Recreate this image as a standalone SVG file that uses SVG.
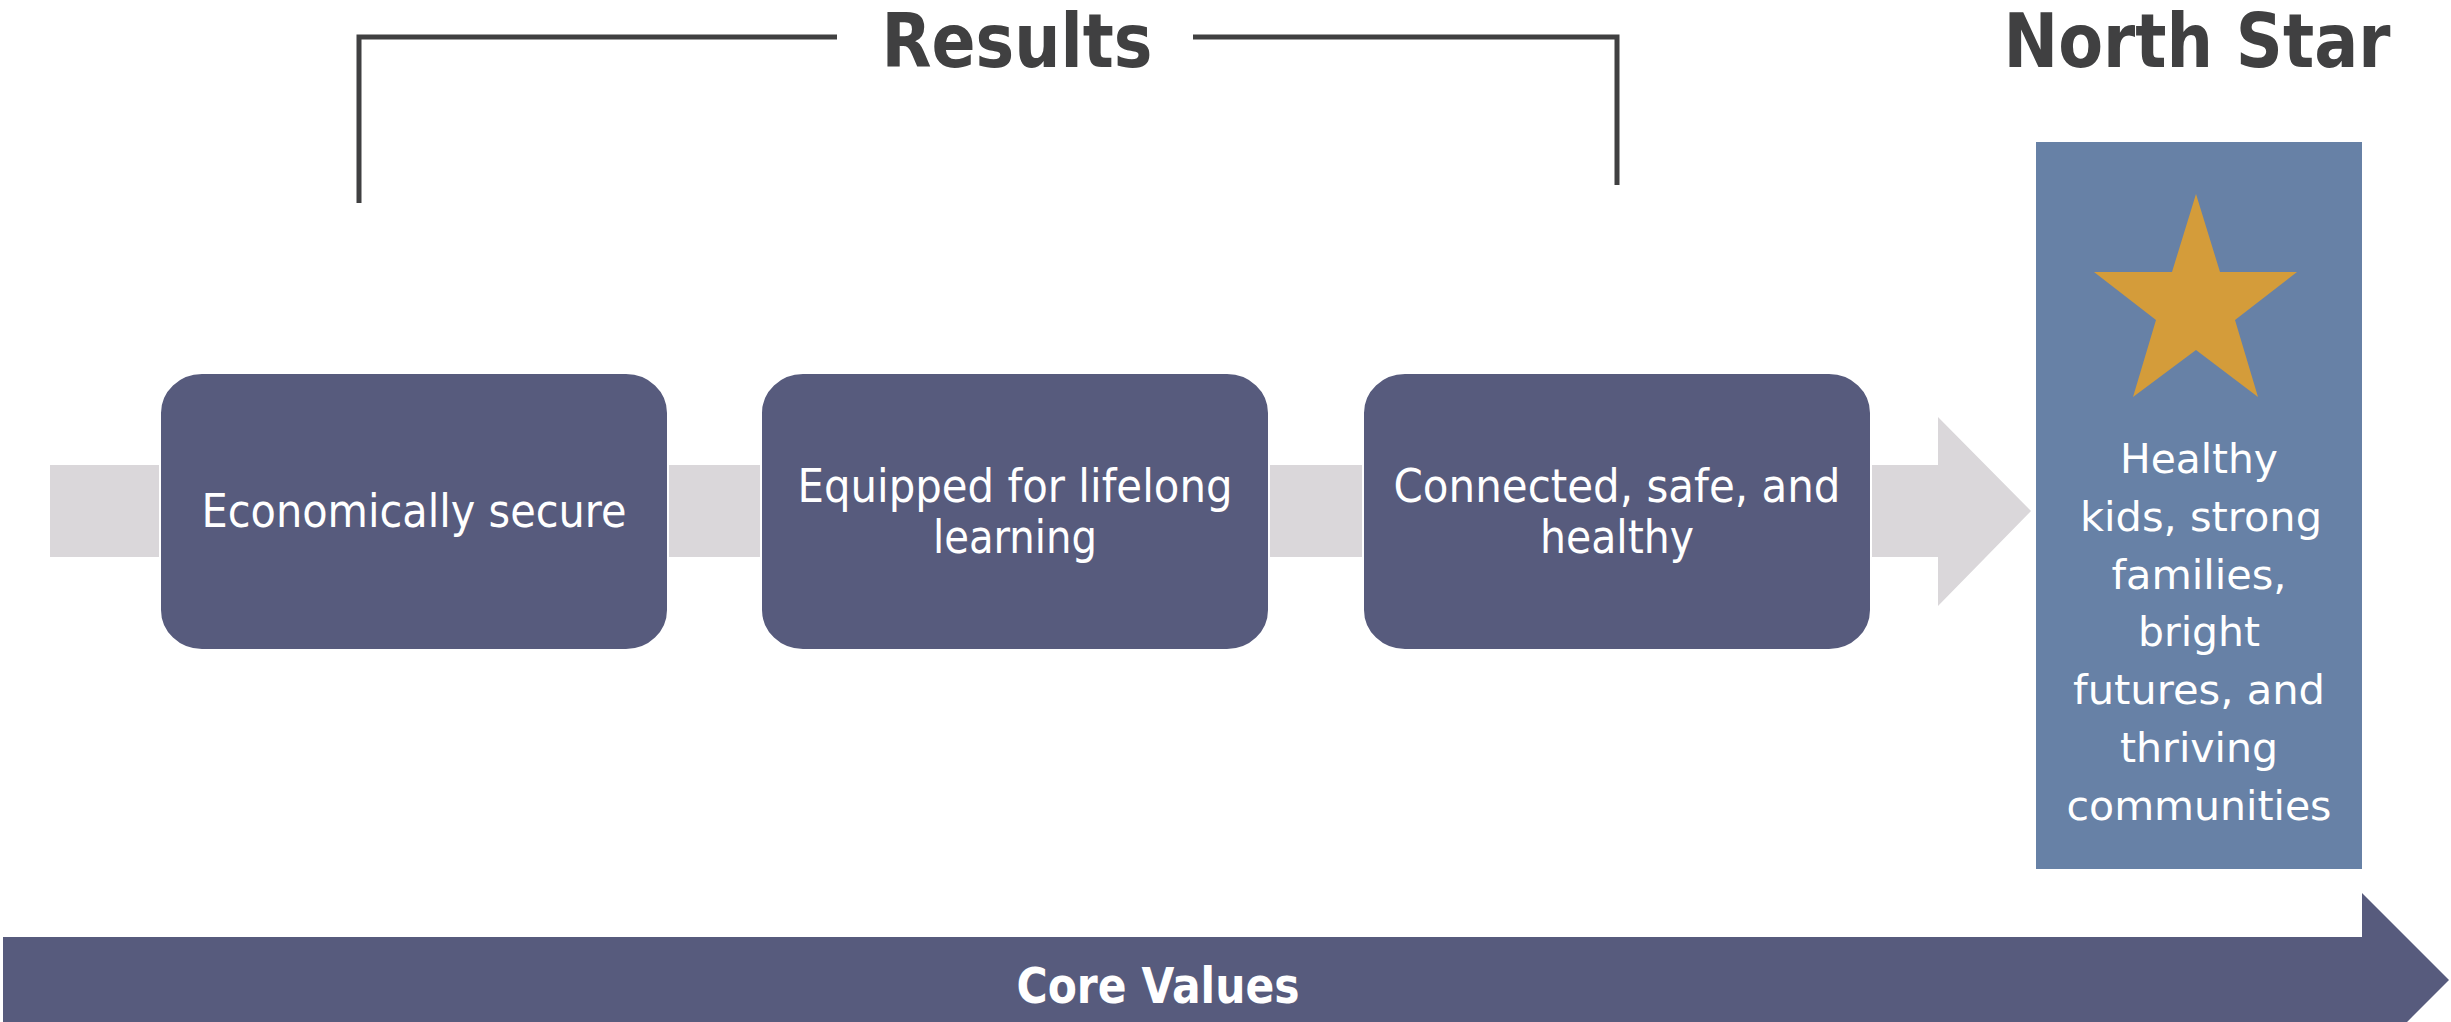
<svg xmlns="http://www.w3.org/2000/svg" width="2451" height="1022" viewBox="0 0 2451 1022">
<style>
.box{fill:#575B7D;stroke:#ffffff;stroke-width:2}
.bt{font-family:"DejaVu Sans","Liberation Sans",sans-serif;font-size:47px;fill:#ffffff;text-anchor:middle}
.st{font-family:"DejaVu Sans","Liberation Sans",sans-serif;font-size:40px;fill:#ffffff;text-anchor:middle}
.hd{font-family:"DejaVu Sans","Liberation Sans",sans-serif;font-size:75px;font-weight:bold;fill:#404041;text-anchor:middle}
.br{fill:none;stroke:#404041;stroke-width:5}
</style>
<rect width="2451" height="1022" fill="#ffffff"/>
<g id="connectors">
<path id="flow-arrow" d="M50,465 H1938 V417 L2031,511 L1938,606 V557 H50 Z" fill="#DAD7DA"/>
<path class="br" d="M359,203 V37 H837"/>
<path class="br" d="M1193,37 H1617 V185"/>
</g>
<g id="results-title">
<text class="hd" x="1017" y="67" textLength="271" lengthAdjust="spacingAndGlyphs">Results</text>
</g>
<g id="northstar-title">
<text class="hd" x="2197" y="67" textLength="387" lengthAdjust="spacingAndGlyphs">North Star</text>
</g>
<g id="node-economic">
<rect class="box" x="160" y="373" width="508" height="277" rx="42" ry="40"/>
<text class="bt" x="414" y="527" textLength="425" lengthAdjust="spacingAndGlyphs">Economically secure</text>
</g>
<g id="node-learning">
<rect class="box" x="761" y="373" width="508" height="277" rx="42" ry="40"/>
<text class="bt" x="1015" y="502" textLength="435" lengthAdjust="spacingAndGlyphs">Equipped for lifelong</text>
<text class="bt" x="1015" y="553" textLength="164" lengthAdjust="spacingAndGlyphs">learning</text>
</g>
<g id="node-connected">
<rect class="box" x="1363" y="373" width="508" height="277" rx="42" ry="40"/>
<text class="bt" x="1617" y="502" textLength="447" lengthAdjust="spacingAndGlyphs">Connected, safe, and</text>
<text class="bt" x="1617" y="553" textLength="154" lengthAdjust="spacingAndGlyphs">healthy</text>
</g>
<g id="node-northstar">
<rect x="2036" y="142" width="326" height="727" fill="#6781A6"/>
<polygon points="2196,194 2220,272 2297,272 2235,320 2258,397 2196,350 2133,397 2156,320 2094,272 2172,272" fill="#D49C3A"/>
<text class="st" x="2199" y="473" textLength="158" lengthAdjust="spacingAndGlyphs">Healthy</text>
<text class="st" x="2201" y="531" textLength="242" lengthAdjust="spacingAndGlyphs">kids, strong</text>
<text class="st" x="2199" y="589" textLength="175" lengthAdjust="spacingAndGlyphs">families,</text>
<text class="st" x="2199" y="646" textLength="122" lengthAdjust="spacingAndGlyphs">bright</text>
<text class="st" x="2199" y="704" textLength="252" lengthAdjust="spacingAndGlyphs">futures, and</text>
<text class="st" x="2199" y="762" textLength="158" lengthAdjust="spacingAndGlyphs">thriving</text>
<text class="st" x="2199" y="820" textLength="265" lengthAdjust="spacingAndGlyphs">communities</text>
</g>
<g id="node-corevalues">
<path d="M3,937 H2362 V893 L2449,980 L2362,1067 V1023 H3 Z" fill="#575B7D"/>
<text x="1158" y="1003" font-family="DejaVu Sans, Liberation Sans, sans-serif" font-size="49" font-weight="bold" fill="#ffffff" text-anchor="middle" textLength="283" lengthAdjust="spacingAndGlyphs">Core Values</text>
</g>
</svg>
